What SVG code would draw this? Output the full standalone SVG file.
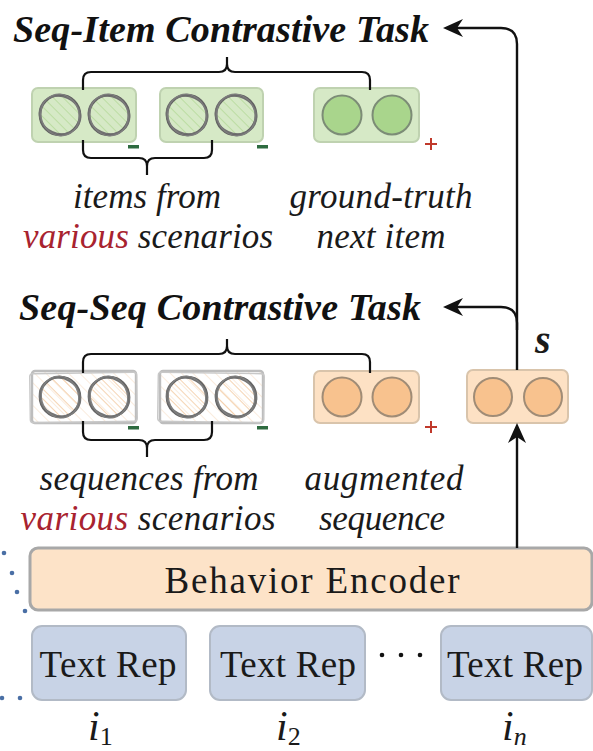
<svg xmlns="http://www.w3.org/2000/svg" width="593" height="751" viewBox="0 0 593 751" font-family="'Liberation Serif','Times New Roman',Times,serif">
<style>
text{font-family:'Liberation Serif','Times New Roman',Times,serif}
.title{font-weight:bold;font-style:italic;font-size:38px;fill:#111}
.lab{font-style:italic;font-size:35px;fill:#1a1a1a}
.red{fill:#a8232f}
.rm{font-size:37px;fill:#1a1a1a}
.mi{font-style:italic;fill:#1a1a1a}
.brace{fill:none;stroke:#111;stroke-width:2.2}
.conn{fill:none;stroke:#111;stroke-width:2.4}
.gbox{fill:#d6e9c6;stroke:#bfd2b0;stroke-width:2}
.obox{fill:#fde1c4;stroke:#d9c4ab;stroke-width:2}
.gc{fill:#a9d58c;stroke:#7c8c76;stroke-width:2}
.oc{fill:#f8c28e;stroke:#a08c76;stroke-width:2}
.minus{fill:#2e6b40}
.plus{stroke:#c0392b;stroke-width:2;fill:none}
.enc{fill:#fde3c8;stroke:#a8a8a8;stroke-width:3}
.trep{fill:#c8d3e6;stroke:#b2bac6;stroke-width:2}
.dot{fill:#4a6fa5}
</style>
<defs>
<pattern id="hg" width="7" height="7" patternUnits="userSpaceOnUse" patternTransform="rotate(-45)">
<line x1="0" y1="0" x2="0" y2="7" stroke="#b3d897" stroke-width="1.5"/>
</pattern>
<pattern id="ho" width="7" height="7" patternUnits="userSpaceOnUse" patternTransform="rotate(-45)">
<line x1="0" y1="0" x2="0" y2="7" stroke="#f3c9a0" stroke-width="1.6"/>
</pattern>
<pattern id="hol" width="8" height="8" patternUnits="userSpaceOnUse" patternTransform="rotate(-45)">
<line x1="0" y1="0" x2="0" y2="8" stroke="#f8e4d0" stroke-width="1.4"/>
</pattern>
<g id="sg">
<circle r="20" fill="url(#hg)" stroke="#626262" stroke-width="2.6"/>
<ellipse rx="21" ry="18.5" transform="rotate(25)" fill="none" stroke="#707070" stroke-width="1.6"/>
<ellipse rx="19" ry="21" transform="rotate(-20)" fill="none" stroke="#7e7e7e" stroke-width="1.3"/>
</g>
<g id="so">
<circle r="20" fill="url(#ho)" stroke="#646464" stroke-width="2.6"/>
<ellipse rx="21" ry="18.5" transform="rotate(30)" fill="none" stroke="#747474" stroke-width="1.6"/>
<ellipse rx="18.5" ry="21" transform="rotate(-15)" fill="none" stroke="#808080" stroke-width="1.3"/>
</g>
<marker id="ah" viewBox="0 0 20 18" refX="6" refY="9" markerWidth="20" markerHeight="18" markerUnits="userSpaceOnUse" orient="auto">
<path d="M20,9 L0,0 L6,9 L0,18 Z" fill="#111"/>
</marker>
</defs>

<g id="left-dots">
<circle class="dot" cx="4" cy="553" r="2.3"/>
<circle class="dot" cx="12" cy="573" r="2.3"/>
<circle class="dot" cx="17" cy="592" r="2.3"/>
<circle class="dot" cx="25" cy="611" r="2.3"/>
<circle class="dot" cx="2" cy="698" r="2.3"/>
<circle class="dot" cx="20" cy="698" r="2.3"/>
</g>

<g id="seq-item-title"><text class="title" x="13" y="42" textLength="416">Seq-Item Contrastive Task</text></g>

<g id="item-neg1">
<rect class="gbox" x="32" y="88" width="104" height="54" rx="6"/>
<use href="#sg" x="60" y="115"/>
<use href="#sg" x="109" y="115"/>
<rect class="minus" x="128" y="145" width="11" height="3.5"/>
</g>
<g id="item-neg2">
<rect class="gbox" x="160" y="88" width="103" height="54" rx="6"/>
<use href="#sg" x="187" y="115"/>
<use href="#sg" x="236" y="115"/>
<rect class="minus" x="257" y="145" width="11" height="3.5"/>
</g>
<g id="item-pos">
<rect class="gbox" x="314" y="88" width="105" height="54" rx="6"/>
<circle class="gc" cx="342" cy="115" r="19.5"/>
<circle class="gc" cx="392" cy="115" r="19.5"/>
<path class="plus" d="M425,144 H437 M431,138 V150"/>
</g>
<g id="item-labels">
<text class="lab" x="147" y="208" text-anchor="middle" textLength="148">items from</text>
<text class="lab" x="148" y="248" text-anchor="middle" textLength="250"><tspan class="red">various</tspan> scenarios</text>
<text class="lab" x="381" y="208" text-anchor="middle" textLength="183">ground-truth</text>
<text class="lab" x="381" y="248" text-anchor="middle" textLength="129">next item</text>
</g>

<g id="seq-seq-title"><text class="title" x="19" y="320" textLength="402">Seq-Seq Contrastive Task</text></g>

<g id="seq-neg1">
<rect x="32" y="371" width="104" height="52" rx="3" fill="url(#hol)" stroke="#bdbdbd" stroke-width="2.4"/>
<rect x="30" y="373" width="107" height="49" rx="3" fill="none" stroke="#c8c8c8" stroke-width="1.4" transform="rotate(-0.8 83 397)"/>
<use href="#so" x="60" y="397"/>
<use href="#so" x="109" y="397"/>
<rect class="minus" x="128" y="426" width="11" height="3.5"/>
</g>
<g id="seq-neg2">
<rect x="160" y="371" width="103" height="52" rx="3" fill="url(#hol)" stroke="#bdbdbd" stroke-width="2.4"/>
<rect x="158" y="373" width="106" height="49" rx="3" fill="none" stroke="#c8c8c8" stroke-width="1.4" transform="rotate(0.8 211 397)"/>
<use href="#so" x="187" y="397"/>
<use href="#so" x="236" y="397"/>
<rect class="minus" x="257" y="426" width="11" height="3.5"/>
</g>
<g id="seq-pos">
<rect class="obox" x="314" y="371" width="105" height="52" rx="6"/>
<circle class="oc" cx="342" cy="397" r="19.5"/>
<circle class="oc" cx="392" cy="397" r="19.5"/>
<path class="plus" d="M425,427 H437 M431,421 V433"/>
</g>
<g id="seq-labels">
<text class="lab" x="149" y="490" text-anchor="middle" textLength="219">sequences from</text>
<text class="lab" x="148" y="530" text-anchor="middle" textLength="255"><tspan class="red">various</tspan> scenarios</text>
<text class="lab" x="384" y="490" text-anchor="middle" textLength="159">augmented</text>
<text class="lab" x="382" y="530" text-anchor="middle" textLength="126">sequence</text>
</g>

<g id="s-emb">
<rect class="obox" x="467" y="370" width="101" height="53" rx="6"/>
<circle class="oc" cx="493" cy="397" r="19"/>
<circle class="oc" cx="543" cy="397" r="19"/>
<text class="mi" x="535" y="353" font-size="40" font-weight="bold">s</text>
</g>

<g id="encoder">
<rect class="enc" x="30" y="548" width="562" height="62" rx="8"/>
<text class="rm" x="312" y="593" text-anchor="middle" font-size="38" textLength="295">Behavior Encoder</text>
</g>

<g id="trep1">
<rect class="trep" x="32" y="626" width="154" height="74" rx="10"/>
<text class="rm" x="108" y="677" text-anchor="middle" textLength="137">Text Rep</text>
</g>
<g id="trep2">
<rect class="trep" x="210" y="626" width="155" height="74" rx="10"/>
<text class="rm" x="288" y="677" text-anchor="middle" textLength="136">Text Rep</text>
</g>
<g id="ellipsis">
<circle cx="382" cy="655" r="2.3" fill="#111"/>
<circle cx="401" cy="655" r="2.3" fill="#111"/>
<circle cx="420" cy="655" r="2.3" fill="#111"/>
</g>
<g id="trep3">
<rect class="trep" x="441" y="626" width="151" height="74" rx="10"/>
<text class="rm" x="515" y="677" text-anchor="middle" textLength="136">Text Rep</text>
</g>

<g id="item-ids">
<text class="mi" x="88" y="740" font-size="42">i<tspan font-size="26" font-style="normal" dy="5">1</tspan></text>
<text class="mi" x="276" y="740" font-size="42">i<tspan font-size="26" font-style="normal" dy="5">2</tspan></text>
<text class="mi" x="502" y="740" font-size="42">i<tspan font-size="26" dy="5">n</tspan></text>
</g>

<g id="connectors">
<path class="brace" d="M83,90 V80 Q83,72 91,72 H219 Q227,72 227,64 V57 M227,64 Q227,72 235,72 H362 Q370,72 370,80 V90"/>
<path class="brace" d="M83,140 V150 Q83,158 91,158 H139 Q147,158 147,166 V175 M147,166 Q147,158 155,158 H204 Q212,158 212,150 V140"/>
<path class="brace" d="M83,373 V362 Q83,354 91,354 H219 Q227,354 227,346 V339 M227,346 Q227,354 235,354 H362 Q370,354 370,362 V373"/>
<path class="brace" d="M83,421 V432 Q83,440 91,440 H139 Q147,440 147,448 V457 M147,448 Q147,440 155,440 H204 Q212,440 212,432 V421"/>
<path class="conn" d="M517,370 V44 Q517,28 501,28 H457" marker-end="url(#ah)"/>
<path class="conn" d="M517,330 V323 Q517,307 501,307 H457" marker-end="url(#ah)"/>
<path class="conn" d="M517,548 V437" marker-end="url(#ah)"/>
</g>
</svg>
